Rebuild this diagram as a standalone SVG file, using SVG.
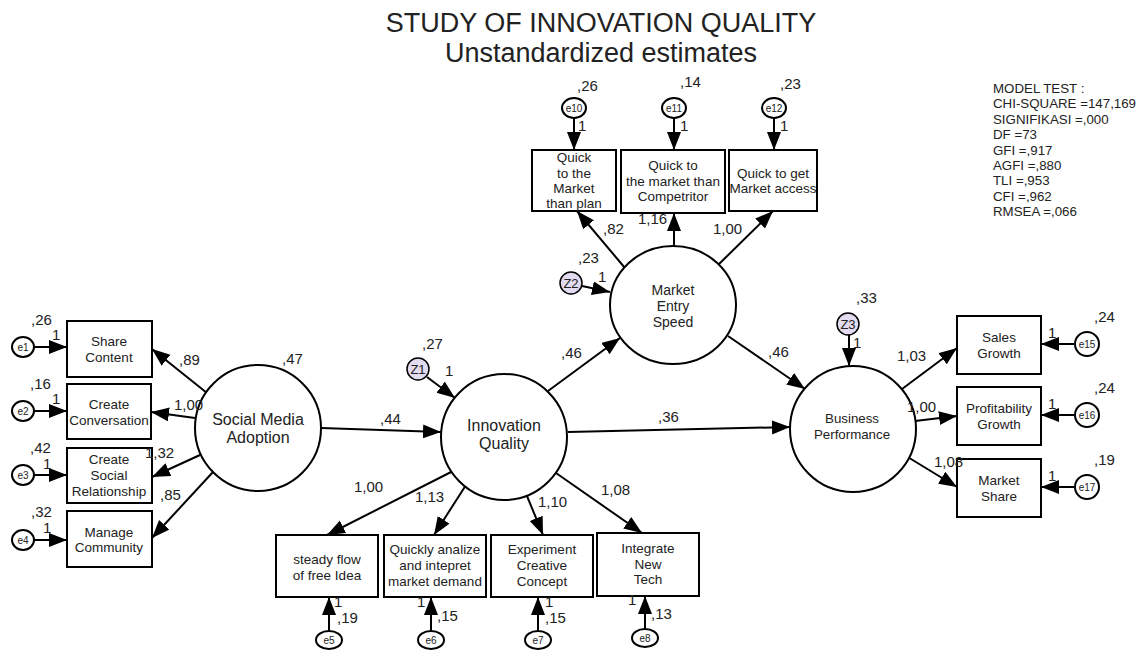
<svg xmlns="http://www.w3.org/2000/svg" width="1144" height="651" viewBox="0 0 1144 651">
<defs>
<marker id="ah" markerUnits="userSpaceOnUse" markerWidth="20" markerHeight="16" refX="18" refY="7" orient="auto">
<path d="M0,0 L18,7 L0,14 Z" fill="#000"/>
</marker>
<style>
.box{fill:#fff;stroke:#000;stroke-width:2}
.lat{fill:#fff;stroke:#000;stroke-width:2}
.err{fill:#fff;stroke:#000;stroke-width:2}
.dist{fill:#e3dbef;stroke:#000;stroke-width:1.5}
.c line{stroke:#000;stroke-width:2;marker-end:url(#ah)}
text{font-family:"Liberation Sans",Arial,sans-serif;fill:#222}
.t{font-size:13.5px;text-anchor:middle}
.lt{font-size:16px;text-anchor:middle}
.mt14{font-size:14px;text-anchor:middle}
.bt{font-size:13.3px;text-anchor:middle}
.et{font-size:10px;text-anchor:middle}
.zt{font-size:13px;text-anchor:middle}
.lb{font-size:15px}
.mt{font-size:13.3px}
</style>
</defs>
<rect width="1144" height="651" fill="#fff"/>
<text x="601" y="32" font-size="27" text-anchor="middle">STUDY OF INNOVATION QUALITY</text>
<text x="601" y="62" font-size="27" text-anchor="middle">Unstandardized estimates</text>
<g id="modeltest">
<text x="993" y="93" class="mt">MODEL TEST :</text>
<text x="993" y="108" class="mt">CHI-SQUARE =147,169</text>
<text x="993" y="124" class="mt">SIGNIFIKASI =,000</text>
<text x="993" y="139" class="mt">DF =73</text>
<text x="993" y="155" class="mt">GFI =,917</text>
<text x="993" y="170" class="mt">AGFI =,880</text>
<text x="993" y="185" class="mt">TLI =,953</text>
<text x="993" y="201" class="mt">CFI =,962</text>
<text x="993" y="216" class="mt">RMSEA =,066</text>
</g>
<g class="c" id="connectors">
<line x1="207" y1="393" x2="152" y2="349"/>
<line x1="195" y1="418" x2="151" y2="412"/>
<line x1="200" y1="455" x2="152" y2="477"/>
<line x1="213" y1="472" x2="152" y2="538"/>
<line x1="34" y1="347" x2="67" y2="347"/>
<line x1="34" y1="411" x2="67" y2="411"/>
<line x1="34" y1="475" x2="67" y2="475"/>
<line x1="34" y1="540" x2="67" y2="540"/>
<line x1="321" y1="428" x2="441" y2="432"/>
<line x1="548" y1="391" x2="620" y2="338"/>
<line x1="568" y1="432" x2="790" y2="427"/>
<line x1="728" y1="336" x2="805" y2="389"/>
<line x1="625" y1="268" x2="577" y2="211"/>
<line x1="674" y1="247" x2="674" y2="213"/>
<line x1="718" y1="265" x2="773" y2="211"/>
<line x1="574" y1="118" x2="574" y2="150"/>
<line x1="674" y1="118" x2="674" y2="150"/>
<line x1="774" y1="118" x2="774" y2="150"/>
<line x1="582" y1="286" x2="610" y2="292"/>
<line x1="427" y1="377" x2="455" y2="398"/>
<line x1="849" y1="335" x2="849" y2="366"/>
<line x1="457" y1="469" x2="327" y2="535"/>
<line x1="466" y1="485" x2="434" y2="535"/>
<line x1="527" y1="496" x2="543" y2="535"/>
<line x1="556" y1="473" x2="642" y2="533"/>
<line x1="329" y1="631" x2="329" y2="597"/>
<line x1="431" y1="631" x2="431" y2="597"/>
<line x1="538" y1="631" x2="538" y2="597"/>
<line x1="645" y1="629" x2="645" y2="596"/>
<line x1="902" y1="389" x2="957" y2="348"/>
<line x1="915" y1="421" x2="957" y2="416"/>
<line x1="906" y1="456" x2="957" y2="487"/>
<line x1="1074" y1="344" x2="1041" y2="344"/>
<line x1="1074" y1="415" x2="1041" y2="415"/>
<line x1="1074" y1="487" x2="1041" y2="487"/>
</g>
<g id="sma"><circle cx="258" cy="428" r="63" class="lat"/><text class="lt" x="258" y="425">Social Media</text><text class="lt" x="258" y="443">Adoption</text></g>
<g id="iq"><circle cx="504" cy="437" r="63" class="lat"/><text class="lt" x="504" y="431">Innovation</text><text class="lt" x="504" y="449">Quality</text></g>
<g id="mes"><ellipse cx="673" cy="305" rx="63" ry="59" class="lat"/><text class="mt14" x="673" y="295">Market</text><text class="mt14" x="673" y="311">Entry</text><text class="mt14" x="673" y="327">Speed</text></g>
<g id="bp"><circle cx="853" cy="429" r="63" class="lat"/><text class="bt" x="852" y="423">Business</text><text class="bt" x="852" y="439">Performance</text></g>
<g id="b1"><rect x="67" y="321" width="85" height="56" class="box"/><text class="t" x="109" y="346">Share</text><text class="t" x="109" y="362">Content</text></g>
<g id="b2"><rect x="67" y="384" width="84" height="55" class="box"/><text class="t" x="109" y="409">Create</text><text class="t" x="109" y="425">Conversation</text></g>
<g id="b3"><rect x="67" y="448" width="85" height="55" class="box"/><text class="t" x="109" y="464">Create</text><text class="t" x="109" y="480">Social</text><text class="t" x="109" y="496">Relationship</text></g>
<g id="b4"><rect x="67" y="511" width="85" height="56" class="box"/><text class="t" x="109" y="537">Manage</text><text class="t" x="109" y="552">Community</text></g>
<g id="e1"><ellipse cx="23" cy="347" rx="11" ry="10" class="err"/><text class="et" x="23" y="351">e1</text></g>
<g id="e2"><ellipse cx="23" cy="411" rx="11" ry="10" class="err"/><text class="et" x="23" y="415">e2</text></g>
<g id="e3"><ellipse cx="23" cy="475" rx="11" ry="10" class="err"/><text class="et" x="23" y="479">e3</text></g>
<g id="e4"><ellipse cx="23" cy="540" rx="11" ry="10" class="err"/><text class="et" x="23" y="544">e4</text></g>
<g id="b10"><rect x="532" y="150" width="84" height="61" class="box"/><text class="t" x="574" y="162">Quick</text><text class="t" x="574" y="178">to the</text><text class="t" x="574" y="193">Market</text><text class="t" x="574" y="208">than plan</text></g>
<g id="b11"><rect x="621" y="150" width="104" height="63" class="box"/><text class="t" x="673" y="170">Quick to</text><text class="t" x="673" y="186">the market than</text><text class="t" x="673" y="201">Competritor</text></g>
<g id="b12"><rect x="729" y="150" width="88" height="61" class="box"/><text class="t" x="773" y="178">Quick to get</text><text class="t" x="773" y="193">Market access</text></g>
<g id="e10"><ellipse cx="574" cy="108" rx="12" ry="10" class="err"/><text class="et" x="574" y="112">e10</text></g>
<g id="e11"><ellipse cx="674" cy="108" rx="12" ry="10" class="err"/><text class="et" x="674" y="112">e11</text></g>
<g id="e12"><ellipse cx="774" cy="108" rx="12" ry="10" class="err"/><text class="et" x="774" y="112">e12</text></g>
<g id="b5"><rect x="276" y="535" width="102" height="62" class="box"/><text class="t" x="327" y="564">steady flow</text><text class="t" x="327" y="580">of free Idea</text></g>
<g id="b6"><rect x="384" y="535" width="102" height="62" class="box"/><text class="t" x="435" y="554">Quickly analize</text><text class="t" x="435" y="570">and intepret</text><text class="t" x="435" y="586">market demand</text></g>
<g id="b7"><rect x="491" y="535" width="102" height="62" class="box"/><text class="t" x="542" y="554">Experiment</text><text class="t" x="542" y="570">Creative</text><text class="t" x="542" y="586">Concept</text></g>
<g id="b8"><rect x="597" y="533" width="102" height="63" class="box"/><text class="t" x="648" y="553">Integrate</text><text class="t" x="648" y="569">New</text><text class="t" x="648" y="584">Tech</text></g>
<g id="e5"><ellipse cx="329" cy="640" rx="13" ry="9" class="err"/><text class="et" x="329" y="644">e5</text></g>
<g id="e6"><ellipse cx="431" cy="640" rx="13" ry="9" class="err"/><text class="et" x="431" y="644">e6</text></g>
<g id="e7"><ellipse cx="538" cy="640" rx="13" ry="9" class="err"/><text class="et" x="538" y="644">e7</text></g>
<g id="e8"><ellipse cx="645" cy="638" rx="13" ry="9" class="err"/><text class="et" x="645" y="642">e8</text></g>
<g id="b15"><rect x="957" y="316" width="84" height="58" class="box"/><text class="t" x="999" y="342">Sales</text><text class="t" x="999" y="358">Growth</text></g>
<g id="b16"><rect x="957" y="387" width="84" height="58" class="box"/><text class="t" x="999" y="413">Profitability</text><text class="t" x="999" y="429">Growth</text></g>
<g id="b17"><rect x="957" y="459" width="84" height="58" class="box"/><text class="t" x="999" y="485">Market</text><text class="t" x="999" y="501">Share</text></g>
<g id="e15"><circle cx="1087" cy="344" r="12" class="err"/><text class="et" x="1087" y="348">e15</text></g>
<g id="e16"><circle cx="1087" cy="415" r="12" class="err"/><text class="et" x="1087" y="419">e16</text></g>
<g id="e17"><circle cx="1087" cy="487" r="12" class="err"/><text class="et" x="1087" y="491">e17</text></g>
<g id="z1"><circle cx="418" cy="369" r="11" class="dist"/><text class="zt" x="418" y="374">Z1</text></g>
<g id="z2"><circle cx="571" cy="283" r="11" class="dist"/><text class="zt" x="571" y="288">Z2</text></g>
<g id="z3"><circle cx="848" cy="324" r="11" class="dist"/><text class="zt" x="848" y="329">Z3</text></g>
<g id="labels">
<text class="lb" x="282" y="364">,47</text>
<text class="lb" x="179" y="365">,89</text>
<text class="lb" x="174" y="410">1,00</text>
<text class="lb" x="145" y="458">1,32</text>
<text class="lb" x="160" y="500">,85</text>
<text class="lb" x="31" y="325">,26</text>
<text class="lb" x="52" y="340">1</text>
<text class="lb" x="30" y="389">,16</text>
<text class="lb" x="52" y="404">1</text>
<text class="lb" x="30" y="453">,42</text>
<text class="lb" x="43" y="469">1</text>
<text class="lb" x="31" y="517">,32</text>
<text class="lb" x="43" y="533">1</text>
<text class="lb" x="380" y="424">,44</text>
<text class="lb" x="422" y="349">,27</text>
<text class="lb" x="445" y="376">1</text>
<text class="lb" x="561" y="358">,46</text>
<text class="lb" x="658" y="422">,36</text>
<text class="lb" x="768" y="357">,46</text>
<text class="lb" x="578" y="263">,23</text>
<text class="lb" x="598" y="282">1</text>
<text class="lb" x="856" y="303">,33</text>
<text class="lb" x="853" y="348">1</text>
<text class="lb" x="603" y="234">,82</text>
<text class="lb" x="638" y="224">1,16</text>
<text class="lb" x="713" y="234">1,00</text>
<text class="lb" x="577" y="91">,26</text>
<text class="lb" x="578" y="131">1</text>
<text class="lb" x="680" y="87">,14</text>
<text class="lb" x="680" y="131">1</text>
<text class="lb" x="780" y="89">,23</text>
<text class="lb" x="780" y="131">1</text>
<text class="lb" x="897" y="361">1,03</text>
<text class="lb" x="907" y="412">1,00</text>
<text class="lb" x="934" y="467">1,08</text>
<text class="lb" x="1094" y="322">,24</text>
<text class="lb" x="1048" y="338">1</text>
<text class="lb" x="1094" y="393">,24</text>
<text class="lb" x="1048" y="409">1</text>
<text class="lb" x="1094" y="465">,19</text>
<text class="lb" x="1048" y="481">1</text>
<text class="lb" x="354" y="492">1,00</text>
<text class="lb" x="415" y="502">1,13</text>
<text class="lb" x="538" y="507">1,10</text>
<text class="lb" x="601" y="495">1,08</text>
<text class="lb" x="334" y="607">1</text>
<text class="lb" x="337" y="623">,19</text>
<text class="lb" x="417" y="607">1</text>
<text class="lb" x="437" y="621">,15</text>
<text class="lb" x="545" y="607">1</text>
<text class="lb" x="545" y="623">,15</text>
<text class="lb" x="628" y="605">1</text>
<text class="lb" x="651" y="619">,13</text>
</g>
</svg>
